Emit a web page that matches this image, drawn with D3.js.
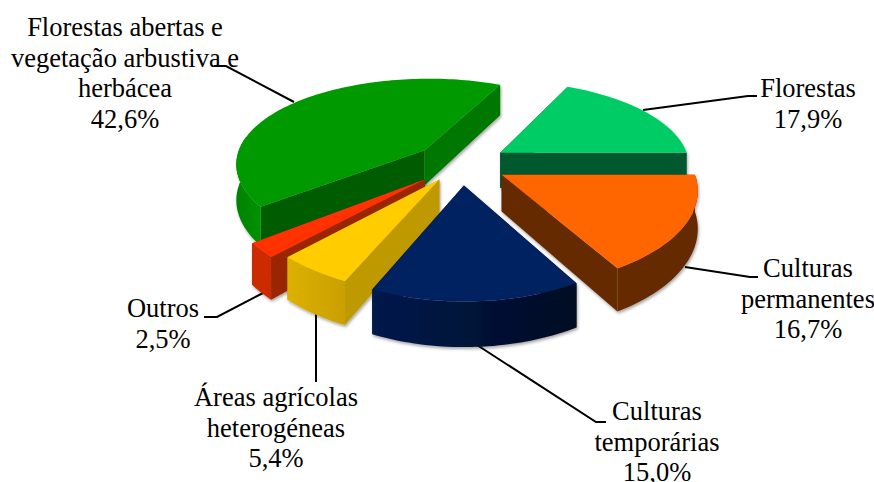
<!DOCTYPE html>
<html><head><meta charset="utf-8">
<script src="https://cdn.jsdelivr.net/npm/d3@7"></script>
<style>html,body{margin:0;padding:0;background:#fff}svg{display:block}text{font-family:"Liberation Serif",serif;font-size:26.5px;fill:#000}</style>
</head><body><svg id="c" width="874" height="482"></svg>
<script>
const categories = ["Florestas","Culturas permanentes","Culturas temporárias","Áreas agrícolas heterogéneas","Outros","Florestas abertas e vegetação arbustiva e herbácea"];
const values = [17.9,16.7,15.0,5.4,2.5,42.6];
const valueLabels = ["17,9%","16,7%","15,0%","5,4%","2,5%","42,6%"];
const labelLines = [["Florestas"],["Culturas","permanentes"],["Culturas","temporárias"],["Áreas agrícolas","heterogéneas"],["Outros"],["Florestas abertas e","vegetação arbustiva e","herbácea"]];
const topColors = ["#00CC66","#FF6600","#002060","#FFCC00","#FF3300","#009900"];
const startWall = ["#00592D","#662B00","#001033","#BF9900","#992600","#005C00"];
const endWall = ["#00592D","#662B00","#001033","#BF9900","#992600","#007800"];
const rimFrom = ["#00592D","#662B00","#001A4D","#DDB000","#CC2900","#008200"];
const rimTo = ["#00592D","#662B00","#000A22","#C9A000","#CC2900","#009200"];
const paintOrder = [5,0,4,3,1,2];
const explodeBy = [0.245,0.24,0.235,0.205,0.255,0.255];
const labelBox = [[808,97],[808,277],[657,420],[276,406],[163,317],[125,36]];
const leaders = [
 [[643,110],[748,96],[757,96]],
 [[685,267],[750,277],[758,277]],
 [[477,345],[596,422],[606,422]],
 [[316,313],[316,382]],
 [[263,293],[217,317],[204,317]],
 [[294,102],[226,66],[214,66]]
];
const cx=461.5, cy=164, rx=190, ry=88, perspX=0.14, perspY=0.17, depth=36, firstAngle=25.6;

const svg=d3.select("#c");
const defs=svg.append("defs");
const f=defs.append("filter").attr("id","sh").attr("x","-10%").attr("y","-10%").attr("width","120%").attr("height","125%");
f.append("feDropShadow").attr("dx",1).attr("dy",2).attr("stdDeviation",1.5).attr("flood-color","#000").attr("flood-opacity",0.35);

const xS=d3.scaleLinear().domain([-1,1]).range([cx-rx,cx+rx]);
const yS=d3.scaleLinear().domain([-1,1]).range([cy-ry,cy+ry]);
const proj=(u,v,z)=>{const sx=1/(1-perspX*v), sy=1/(1-perspY*v);return [cx+(xS(u)-cx)*sx,cy+(yS(v)-cy)*sy+z*sy];};
const a0=firstAngle*Math.PI/180;
const arcs=d3.pie().sort(null).startAngle(a0).endAngle(a0+2*Math.PI)(values);
const line=d3.line();
const poly=p=>line(p)+"Z";

arcs.forEach((a,i)=>{
  const g=defs.append("linearGradient").attr("id","rim"+i);
  g.append("stop").attr("offset",0).attr("stop-color",rimFrom[i]);
  g.append("stop").attr("offset",1).attr("stop-color",rimTo[i]);
});

const lg=svg.append("g").attr("fill","none").attr("stroke","#000").attr("stroke-width",2);
leaders.forEach(l=>lg.append("path").attr("d",line(l)));

paintOrder.forEach(i=>{
  const a=arcs[i], mid=(a.startAngle+a.endAngle)/2, e=explodeBy[i];
  const ox=e*Math.sin(mid), oy=-e*Math.cos(mid);
  const n=Math.max(8,Math.ceil((a.endAngle-a.startAngle)*40));
  const angles=d3.range(n+1).map(k=>a.startAngle+(a.endAngle-a.startAngle)*k/n);
  const rimAt=t=>[ox+Math.sin(t),oy-Math.cos(t)];
  const top=angles.map(t=>{const p=rimAt(t);return proj(p[0],p[1],0);});
  const bot=angles.map(t=>{const p=rimAt(t);return proj(p[0],p[1],depth);});
  const apT=proj(ox,oy,0), apB=proj(ox,oy,depth);
  const gr=svg.append("g").attr("filter","url(#sh)");
  gr.append("path").attr("d",poly([apT,top[0],bot[0],apB])).attr("fill",startWall[i]);
  gr.append("path").attr("d",poly([apT,top[n],bot[n],apB])).attr("fill",endWall[i]);
  const front=angles.map((t,k)=>k).filter(k=>angles[k]>Math.PI/2-0.01&&angles[k]<Math.PI*1.56);
  if(front.length>1){
    const pts=front.map(k=>top[k]).concat(front.slice().reverse().map(k=>bot[k]));
    gr.append("path").attr("d",poly(pts)).attr("fill",`url(#rim${i})`);
  }
  gr.append("path").attr("d",poly([apT].concat(top))).attr("fill",topColors[i]);
});

labelLines.forEach((ls,i)=>{
  const all=ls.concat([valueLabels[i]]);
  const t=svg.append("text").attr("text-anchor","middle");
  all.forEach((s,k)=>t.append("tspan").attr("x",labelBox[i][0]).attr("y",labelBox[i][1]+k*30.5).text(s));
});
</script></body></html>
